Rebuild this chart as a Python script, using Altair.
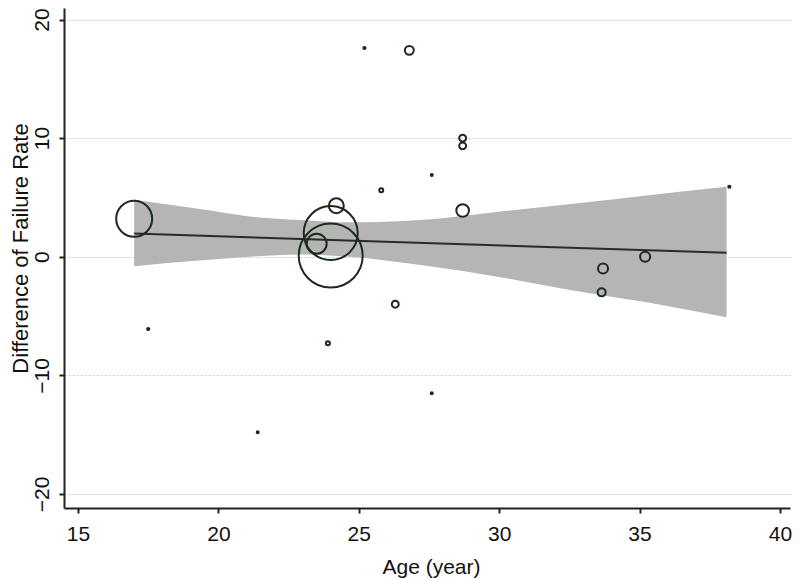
import altair as alt
import pandas as pd

# Study points: age (x), difference of failure rate (y), study weight (bubble area)
age = [17.0, 24.0, 24.0, 23.5, 24.2, 25.2, 26.8, 25.8, 27.6, 28.7, 28.7, 28.7,
       33.7, 33.65, 35.2, 38.2, 17.5, 23.9, 21.4, 27.6, 26.3]
diff = [3.2, 0.1, 2.0, 1.1, 4.3, 17.6, 17.4, 5.6, 6.9, 10.0, 9.35, 3.9,
        -1.0, -3.0, 0.0, 5.9, -6.1, -7.3, -14.8, -11.5, -4.0]
weight = [324, 1024, 729, 100, 56, 1.2, 20, 4, 1, 12, 12, 40,
          25, 16, 25, 1.2, 1.2, 4, 1, 1, 12]

# Confidence band of the meta-regression line
band_age = [17.0, 19.4, 21.1, 22.9, 24.7, 27.2, 30.0, 32.8, 35.4, 38.1]
band_hi = [4.8, 4.0, 3.4, 3.1, 2.9, 3.1, 3.8, 4.5, 5.2, 5.9]
band_lo = [-0.8, -0.3, 0.0, 0.2, 0.0, -0.7, -1.7, -2.9, -3.9, -5.1]

# Fitted line end points
fit_age = [17.0, 38.1]
fit_val = [1.95, 0.33]

x_ticks = [15, 20, 25, 30, 35, 40]
y_ticks = [-20, -10, 0, 10, 20]

pts = pd.DataFrame({"age": age, "diff": diff, "weight": weight})
band = pd.DataFrame({"age": band_age, "lo": band_lo, "hi": band_hi})
fit = pd.DataFrame({"age": fit_age, "val": fit_val})

FONT = "Liberation Sans"
xs = alt.Scale(domain=[14.5, 40.36], nice=False, zero=False)
ys = alt.Scale(domain=[-21.18, 20.97], nice=False, zero=False)

x_axis = alt.Axis(values=x_ticks, title="Age (year)", grid=False,
                  tickSize=5, tickColor="#222", tickWidth=2,
                  domainColor="#222", domainWidth=2,
                  labelFont=FONT, labelFontSize=21, labelColor="#111",
                  labelPadding=10, labelAngle=0,
                  titleFont=FONT, titleFontSize=21, titleFontWeight="normal",
                  titleColor="#111", titleX=367, titleY=65,
                  titleBaseline="alphabetic", titleAlign="center")
y_axis = alt.Axis(values=y_ticks, title="Difference of Failure Rate",
                  grid=True, gridColor="#c3d0d0", gridDash=[2, 2], gridWidth=1.2,
                  tickSize=5, tickColor="#222", tickWidth=2,
                  domainColor="#222", domainWidth=2,
                  labelFont=FONT, labelFontSize=21, labelColor="#111",
                  labelAngle=270, labelAlign="center", labelBaseline="alphabetic",
                  labelPadding=11,
                  titleFont=FONT, titleFontSize=22, titleFontWeight="normal",
                  titleColor="#111", titleAngle=270, titleX=-37, titleY=240,
                  titleBaseline="alphabetic", titleAlign="center")

band_layer = alt.Chart(band).mark_area(color="#b5b5b5", opacity=1,
                                       interpolate="monotone").encode(
    x=alt.X("age:Q", scale=xs, axis=x_axis),
    y=alt.Y("lo:Q", scale=ys, axis=y_axis),
    y2="hi:Q",
)

line_layer = alt.Chart(fit).mark_line(color="#2a2a2a", strokeWidth=2).encode(
    x=alt.X("age:Q", scale=xs, axis=x_axis),
    y=alt.Y("val:Q", scale=ys, axis=y_axis),
)

pt_layer = alt.Chart(pts).mark_point(
    shape="circle", filled=False, color="#1c2a1c", strokeWidth=2, opacity=1
).encode(
    x=alt.X("age:Q", scale=xs, axis=x_axis),
    y=alt.Y("diff:Q", scale=ys, axis=y_axis),
    size=alt.Size("weight:Q", scale=alt.Scale(domain=[0, 1024], range=[0, 4096]),
                  legend=None),
)

chart = alt.layer(band_layer, line_layer, pt_layer).properties(
    width=726, height=500,
    autosize=alt.AutoSizeParams(type="none"),
    padding={"left": 56, "top": 0, "right": 2, "bottom": 70},
    background="white",
).configure_view(stroke=None)

chart.save("out.html", embed_options={"renderer": "svg", "actions": False})
